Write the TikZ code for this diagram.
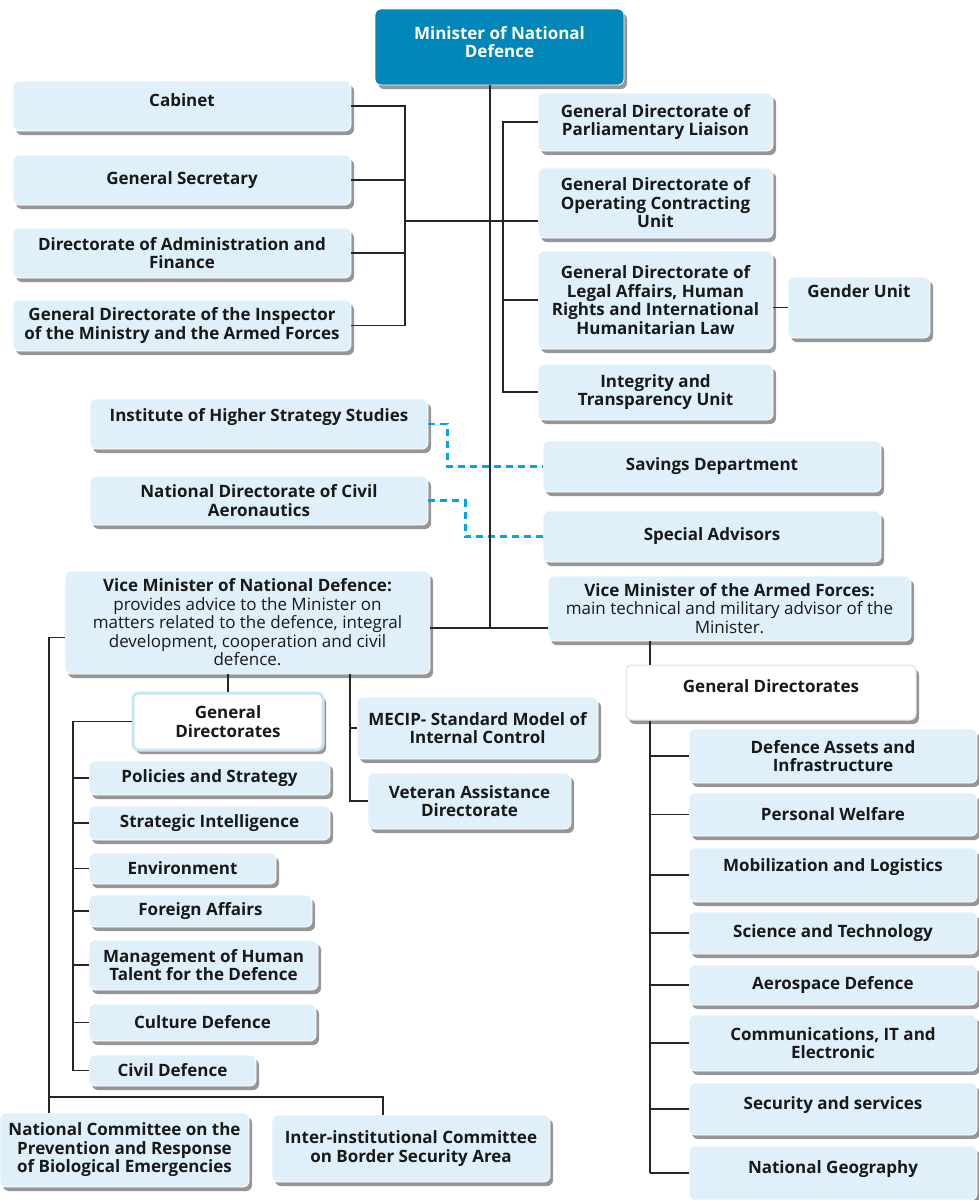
\documentclass[tikz,border=0pt]{standalone}
\usepackage{fontspec}
\setmainfont{Open Sans}
\usetikzlibrary{shadows}

\definecolor{boxblue}{RGB}{223,240,251}
\definecolor{minblue}{RGB}{0,134,185}
\definecolor{dashblue}{RGB}{0,166,230}
\definecolor{rimblue}{RGB}{200,229,244}

\tikzset{
	box/.style={rectangle, rounded corners=6bp, fill=boxblue, draw=white, line width=.8bp,
		align=center, inner sep=2bp, text=black!90,
		font=\fontsize{17bp}{18.5bp}\selectfont\bfseries,
		drop shadow={shadow xshift=3bp, shadow yshift=-4bp, opacity=.55, fill=black!75}},
	sz/.style 2 args={minimum width=#1bp, minimum height=#2bp},
	raise/.style={text depth=#1bp},
	dirbox/.style={box, fill=white, draw=black!12, line width=1bp},
	link/.style={line width=1.5bp, black!85},
	dlink/.style={line width=2.5bp, dashblue, dash pattern=on 7bp off 5bp},
}

\begin{document}
\begin{tikzpicture}[x=1bp, y=-1bp]
	\useasboundingbox (0,0) rectangle (979,1200);

	% Ministro
	\node[box, sz={249}{76}, fill=minblue, text=white, raise=10] (min) at (499.5,47) {Minister of National\\Defence};

	% Columna izq
	\node[box, sz={338}{50}, raise=12] (cab) at (182,106) {Cabinet};
	\node[box, sz={338}{50}] (gsec) at (182,180) {General Secretary};
	\node[box, sz={338}{50}] (dadm) at (182,253) {Directorate of Administration and\\Finance};
	\node[box, sz={338}{51}] (insp) at (182,325.5) {General Directorate of the Inspector\\of the Ministry and the Armed Forces};

	% Columna der
	\node[box, sz={235}{58}] (parl) at (655.5,122) {General Directorate of\\Parliamentary Liaison};
	\node[box, sz={235}{70}] (oper) at (655.5,203) {General Directorate of\\Operating Contracting\\Unit};
	\node[box, sz={235}{98}] (legal) at (655.5,300) {General Directorate of\\Legal Affairs, Human\\Rights and International\\Humanitarian Law};
	\node[box, sz={235}{56}] (integ) at (655.5,392) {Integrity and\\Transparency Unit};
	\node[box, sz={142}{61}] (gender) at (859,307.5) {Gender Unit\\[14bp]\mbox{}};

	% Asesores
	\node[box, sz={338}{50}, raise=18] (inst) at (259,424) {Institute of Higher Strategy Studies};
	\node[box, sz={338}{49}] (civaer) at (259,500.5) {National Directorate of Civil\\Aeronautics};
	\node[box, sz={338}{51}] (sav) at (712,466.5) {Savings Department};
	\node[box, sz={338}{51}] (spec) at (712,536.5) {Special Advisors};

	% Viceministros
	\node[box, sz={365}{103}, font=\fontsize{17bp}{18.5bp}\selectfont] (vmnd) at (247.5,622.5)
		{\textbf{Vice Minister of National Defence:}\\provides advice to the Minister on\\matters related to the defence, integral\\development, cooperation and civil\\defence.};
	\node[box, sz={363}{65}, font=\fontsize{17bp}{18.5bp}\selectfont] (vmaf) at (729.5,608.5)
		{\textbf{Vice Minister of the Armed Forces:}\\main technical and military advisor of the\\Minister.};

	% Direcciones izq
	\node[box, sz={190}{57}, fill=white, draw=rimblue, line width=3bp] (gdl) at (228,721.5) {General\\Directorates};
	\node[box, sz={241}{34}] (pol) at (209.5,778) {Policies and Strategy};
	\node[box, sz={241}{34}] (sint) at (209.5,823) {Strategic Intelligence};
	\node[box, sz={187}{31}] (env) at (182.5,868.5) {Environment};
	\node[box, sz={223}{32}] (forg) at (200.5,911) {Foreign Affairs};
	\node[box, sz={229}{50}] (mgmt) at (203.5,965) {Management of Human\\Talent for the Defence};
	\node[box, sz={227}{37}] (cult) at (202.5,1022.5) {Culture Defence};
	\node[box, sz={167}{31}] (civd) at (172.5,1070.5) {Civil Defence};
	\node[box, sz={241}{62}] (mecip) at (477.5,728) {MECIP- Standard Model of\\Internal Control};
	\node[box, sz={203}{56}] (vet) at (469.5,801) {Veteran Assistance\\Directorate};
	\node[box, sz={249}{74}] (natc) at (124.5,1150) {National Committee on the\\Prevention and Response\\of Biological Emergencies};
	\node[box, sz={278}{67}] (inter) at (411,1148.5) {Inter-institutional Committee\\on Border Security Area};

	% Direcciones der
	\node[dirbox, sz={290}{55}, raise=12] (gdr) at (771,692.5) {General Directorates};
	\node[box, sz={288}{54}] (das) at (833,756) {Defence Assets and\\Infrastructure};
	\node[box, sz={288}{43}] (pw) at (833,814.5) {Personal Welfare};
	\node[box, sz={288}{54}, raise=20] (mob) at (833,875) {Mobilization and Logistics};
	\node[box, sz={288}{42}] (sci) at (833,933) {Science and Technology};
	\node[box, sz={288}{40}] (aero) at (833,985) {Aerospace Defence};
	\node[box, sz={288}{56}] (comm) at (833,1043) {Communications, IT and\\Electronic};
	\node[box, sz={288}{52}, raise=11] (sec) at (833,1109) {Security and services};
	\node[box, sz={288}{54}, raise=12] (geo) at (833,1173) {National Geography};

	% Conectores
	\coordinate (ljoin) at (405,221);
	\coordinate (trunk) at (490,628);
	\coordinate (rbar) at (503,300);
	\coordinate (ojoin) at (49,1097);
	\coordinate (ibar) at (73,900);
	\coordinate (mbar) at (350,700);
	\coordinate (gbar) at (650,900);

	\draw[dlink] (inst.east) -- ++(19,0) |- (sav.west);
	\draw[dlink] (civaer.east) -- ++(37,0) |- (spec.west);

	\draw[link] (trunk |- min.south) -- (trunk);
	\draw[link] (vmnd.east |- trunk) -- (vmaf.west |- trunk);

	\draw[link] (cab.east) -| (ljoin);
	\draw[link] (insp.east) -| (ljoin);
	\draw[link] (gsec.east) -- (gsec.east -| ljoin);
	\draw[link] (dadm.east) -- (dadm.east -| ljoin);
	\draw[link] (ljoin) -- (ljoin -| oper.west);

	\draw[link] (parl.west) -| (rbar) |- (integ.west);
	\draw[link] (legal.west) -- (legal.west -| rbar);
	\draw[link] (legal.east |- gender.west) -- (gender.west);

	\draw[link] ([yshift=-15bp]vmnd.west) -| (ojoin) -| ([xshift=-28bp]inter.north);
	\draw[link] (ojoin) -- (ojoin |- natc.north);
	\draw[link] (gdl.north |- vmnd.south) -- (gdl.north);
	\draw[link] (gdl.west) -| (ibar) |- (civd.west);
	\foreach \n in {pol, sint, env, forg, mgmt, cult}{
		\draw[link] (\n.west) -- (\n.west -| ibar);}
	\draw[link] (mbar |- vmnd.south) |- (vet.west);
	\draw[link] (mecip.west) -- (mecip.west -| mbar);

	\draw[link] (gbar |- vmaf.south) -- (gbar |- gdr.north);
	\draw[link] (gbar |- gdr.south) -- (gbar |- geo.west);
	\foreach \n in {das, pw, mob, sci, aero, comm, sec, geo}{
		\draw[link] (\n.west) -- (\n.west -| gbar);}
\end{tikzpicture}
\end{document}
